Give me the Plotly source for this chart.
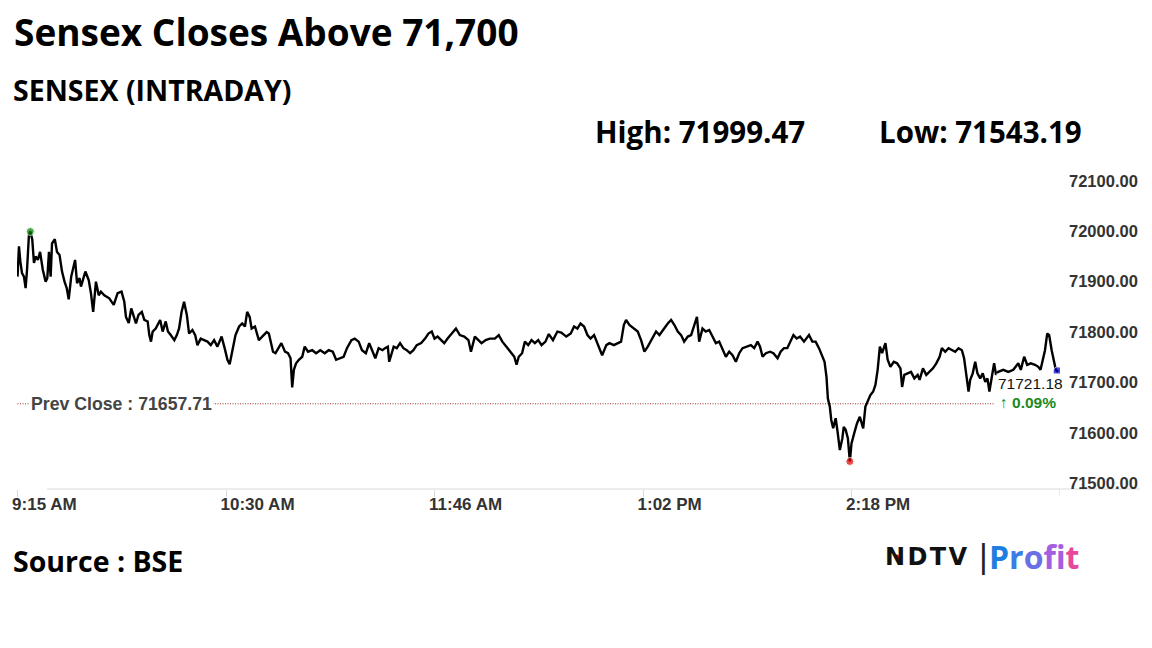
import plotly.graph_objects as go

# ---------------- data ----------------
# minutes elapsed since 9:15 AM
minutes = [
    0.0, 0.5, 1.0, 1.6, 2.3, 2.9, 3.4, 4.1, 4.6, 5.3, 5.9, 6.5, 7.3, 8.1, 9.1, 10.1, 10.7, 11.3, 11.9,
    12.4, 13.4, 14.2, 15.1, 16.0, 16.9, 17.7, 18.4, 19.3, 20.7, 21.4, 22.3, 22.8, 23.7, 24.4, 25.6,
    26.4, 27.2, 28.2, 29.2, 30.0, 31.2, 33.0, 34.6, 36.0, 37.4, 38.4, 39.0, 40.0, 40.9, 41.6, 42.6,
    43.5, 44.7, 45.6, 46.8, 47.4, 48.0, 48.6, 49.7, 51.3, 52.2, 53.3, 54.1, 55.1, 56.4, 57.3, 58.1,
    59.0, 59.9, 60.9, 61.7, 62.9, 63.9, 64.7, 65.9, 67.1, 68.3, 69.5, 70.7, 71.9, 73.4, 74.5, 75.5,
    76.3, 77.3, 78.4, 79.7, 80.8, 81.8, 82.6, 83.5, 84.2, 85.4, 86.8, 88.0, 89.6, 90.4, 91.0, 91.9,
    92.8, 94.0, 94.9, 96.2, 97.3, 98.2, 98.8, 99.4, 100.2, 101.2, 102.4, 103.3, 104.5, 106.0, 107.4,
    108.9, 110.5, 111.9, 113.4, 114.6, 116.1, 117.3, 118.5, 120.1, 121.3, 122.7, 123.9, 125.3, 126.5,
    127.5, 128.7, 129.9, 131.3, 132.2, 133.2, 133.7, 135.3, 136.4, 137.6, 138.8, 140.0, 141.2, 142.4,
    143.6, 145.2, 146.6, 147.8, 149.0, 150.0, 151.1, 152.3, 153.5, 154.7, 156.2, 157.7, 159.1, 160.7,
    162.2, 163.1, 164.5, 165.7, 166.9, 168.4, 169.9, 171.7, 173.1, 174.4, 175.9, 177.4, 178.7, 179.5,
    180.3, 181.5, 182.5, 183.7, 184.9, 186.1, 187.3, 188.5, 189.9, 191.1, 192.6, 194.2, 195.6, 197.4,
    199.0, 200.2, 201.4, 202.5, 203.8, 205.0, 206.1, 207.4, 208.5, 209.4, 210.3, 211.8, 212.9, 214.5,
    216.0, 217.1, 218.1, 218.9, 220.1, 221.7, 223.1, 224.3, 225.5, 226.7, 228.2, 229.7, 230.9, 232.5,
    233.9, 235.1, 236.3, 237.5, 238.7, 239.8, 241.1, 242.3, 243.4, 244.4, 245.2, 246.4, 247.6, 248.8,
    250.0, 251.2, 252.4, 253.6, 254.8, 256.0, 257.2, 258.4, 259.6, 260.8, 262.3, 263.8, 265.0, 266.2,
    267.1, 268.0, 269.2, 270.7, 271.9, 273.4, 274.5, 275.7, 276.9, 278.1, 279.1, 280.3, 281.5, 282.9,
    284.7, 285.9, 287.1, 288.3, 289.5, 290.3, 291.0, 291.5, 292.2, 292.7, 293.4, 294.3, 294.9, 295.8,
    296.7, 297.2, 297.9, 298.7, 299.4, 300.0, 301.1, 302.0, 303.0, 303.6, 304.2, 305.0, 305.9, 306.8,
    307.8, 308.6, 309.4, 310.2, 311.0, 312.2, 313.0, 314.0, 315.2, 316.4, 317.6, 318.2, 319.0, 320.2,
    321.4, 322.6, 323.8, 324.5, 325.7, 326.9, 328.1, 329.3, 330.5, 331.7, 332.5, 333.7, 334.9, 336.1,
    337.3, 338.5, 339.7, 340.5, 341.2, 342.1, 342.7, 343.6, 344.5, 345.3, 346.3, 347.2, 348.1, 348.9,
    349.6, 350.5, 351.3, 352.0, 352.8, 354.6, 356.4, 358.2, 360.0, 360.9, 362.1, 363.2, 364.5, 366.0,
    367.2, 368.0, 369.0, 369.6, 370.4, 371.1, 372.0, 373.5, 374.3,
]
sensex = [
    71910, 71970, 71940, 71917, 71910, 71887, 71923, 71993, 71999.47, 71983, 71937, 71950, 71943, 71959,
    71923, 71900, 71907, 71959, 71910, 71976, 71984, 71959, 71953, 71920, 71900, 71887, 71865, 71910,
    71943, 71897, 71907, 71890, 71907, 71920, 71903, 71877, 71840, 71900, 71873, 71880, 71873, 71867,
    71854, 71877, 71880, 71860, 71830, 71818, 71847, 71834, 71817, 71834, 71840, 71824, 71821, 71794,
    71781, 71801, 71807, 71824, 71801, 71821, 71801, 71794, 71784, 71794, 71807, 71840, 71860, 71834,
    71797, 71804, 71794, 71774, 71787, 71784, 71781, 71774, 71784, 71771, 71791, 71768, 71745, 71736,
    71761, 71794, 71811, 71817, 71811, 71840, 71830, 71807, 71811, 71784, 71791, 71800, 71797, 71781,
    71761, 71758, 71771, 71778, 71761, 71758, 71748, 71690, 71725, 71738, 71745, 71751, 71771, 71761,
    71764, 71758, 71764, 71758, 71764, 71761, 71745, 71748, 71751, 71768, 71784, 71787, 71781, 71764,
    71758, 71778, 71764, 71748, 71768, 71764, 71768, 71771, 71741, 71771, 71768, 71778, 71768, 71764,
    71758, 71764, 71774, 71778, 71787, 71797, 71801, 71787, 71791, 71784, 71778, 71787, 71797, 71807,
    71794, 71791, 71784, 71761, 71791, 71784, 71778, 71784, 71787, 71787, 71794, 71781, 71771, 71761,
    71751, 71735, 71751, 71758, 71781, 71774, 71784, 71778, 71784, 71774, 71781, 71796, 71784, 71801,
    71799, 71791, 71797, 71811, 71807, 71817, 71811, 71794, 71787, 71794, 71778, 71764, 71754, 71774,
    71778, 71774, 71778, 71781, 71814, 71824, 71814, 71807, 71801, 71784, 71761, 71771, 71787, 71801,
    71794, 71807, 71817, 71824, 71814, 71801, 71794, 71781, 71791, 71794, 71814, 71830, 71781, 71807,
    71801, 71804, 71791, 71778, 71781, 71764, 71751, 71761, 71754, 71741, 71758, 71768, 71771, 71774,
    71768, 71781, 71771, 71751, 71758, 71761, 71758, 71748, 71761, 71768, 71768, 71781, 71794, 71787,
    71791, 71781, 71794, 71781, 71781, 71768, 71751, 71741, 71711, 71668, 71652, 71626, 71609, 71629,
    71606, 71566, 71589, 71612, 71606, 71589, 71543.19, 71579, 71602, 71619, 71632, 71622, 71609, 71652,
    71662, 71675, 71682, 71695, 71725, 71771, 71758, 71778, 71745, 71731, 71741, 71738, 71728, 71691,
    71715, 71718, 71721, 71708, 71715, 71705, 71728, 71715, 71721, 71728, 71738, 71751, 71768, 71761,
    71768, 71764, 71761, 71768, 71764, 71748, 71715, 71682, 71705, 71718, 71741, 71718, 71708, 71718,
    71701, 71708, 71682, 71711, 71738, 71715, 71721, 71725, 71721, 71725, 71738, 71725, 71751, 71735,
    71738, 71735, 71731, 71725, 71748, 71764, 71797, 71794, 71764, 71725, 71721.18,
]

tick_minutes = [0, 75, 150, 225, 300]
tick_labels = ["9:15 AM", "10:30 AM", "11:46 AM", "1:02 PM", "2:18 PM"]
session_end_minute = 375
y_ticks = [71500, 71600, 71700, 71800, 71900, 72000, 72100]

day_high = 71999.47
day_low = 71543.19
prev_close = 71657.71
last_value = 71721.18
change_pct = 0.09

title_text = "Sensex Closes Above 71,700"
subtitle_text = "SENSEX (INTRADAY)"
source_text = "Source : BSE"

# ---------------- layout helpers ----------------
W, H = 1152, 648
ML, MR, MT, MB = 14, 92, 165, 159
PW, PH = W - ML - MR, H - MT - MB


def px(x):
    return (x - ML) / PW


def py(y):
    return (H - MB - y) / PH


hi_i = sensex.index(day_high)
lo_i = sensex.index(day_low)

fig = go.Figure()

fig.add_trace(go.Scatter(
    x=minutes, y=sensex, mode="lines",
    line=dict(color="#000000", width=2.4),
    hoverinfo="skip", showlegend=False,
))

fig.add_trace(go.Scatter(
    x=[minutes[hi_i], minutes[lo_i], minutes[-1]],
    y=[day_high, day_low, last_value],
    mode="markers",
    marker=dict(size=[8, 8, 10], color=["#008000", "#e00000", "#0000cc"]),
    hoverinfo="skip", showlegend=False,
))

# previous close dotted line
fig.add_shape(type="line", xref="x", yref="y",
              x0=minutes[0], x1=351.6, y0=prev_close, y1=prev_close,
              line=dict(color="#a52a2a", width=1, dash="1px,1.5px"), layer="below")

# bottom axis line (extends past the plot)
fig.add_shape(type="line", xref="paper", yref="paper",
              x0=px(44), x1=px(1140), y0=0, y1=0,
              line=dict(color="#e6e6e6", width=1.5), layer="below")
# tick mark at session end
fig.add_shape(type="line", xref="x", yref="paper",
              x0=session_end_minute, x1=session_end_minute, y0=0, y1=-7 / PH,
              line=dict(color="#d8d8d8", width=1), layer="below")

font_ui = "Liberation Sans, Arial, sans-serif"
font_title = "Open Sans, Noto Sans, sans-serif"

annotations = [
    dict(text=title_text, x=px(9), y=py(32), xanchor="left", yanchor="middle",
         font=dict(family=font_title, size=37, color="#000", weight="bold")),
    dict(text=subtitle_text, x=px(8), y=py(90), xanchor="left", yanchor="middle",
         font=dict(family=font_title, size=28.5, color="#000", weight="bold")),
    dict(text=f"High: {day_high:.2f}", x=px(592), y=py(131), xanchor="left", yanchor="middle",
         font=dict(family=font_title, size=29.5, color="#000", weight="bold")),
    dict(text=f"Low: {day_low:.2f}", x=px(876), y=py(131), xanchor="left", yanchor="middle",
         font=dict(family=font_title, size=29.5, color="#000", weight="bold")),
    dict(text=source_text, x=px(8), y=py(561), xanchor="left", yanchor="middle",
         font=dict(family=font_title, size=28.5, color="#000", weight="bold")),
    dict(text=f"Prev Close : {prev_close:.2f}", x=px(26), y=prev_close, yref="y",
         xanchor="left", yanchor="middle", bgcolor="#ffffff", borderpad=1,
         font=dict(family=font_ui, size=17.7, color="#444444", weight="bold")),
    dict(text=f"{last_value:.2f}", x=minutes[-1], y=last_value, xref="x", yref="y",
         xanchor="right", yanchor="top", xshift=7, yshift=-1, bgcolor="#ffffff", borderpad=1,
         font=dict(family=font_ui, size=15.5, color="#111111")),
    dict(text=f"\u2191 {change_pct:.2f}%", x=minutes[-1], y=last_value, xref="x", yref="y",
         xanchor="right", yanchor="top", xshift=0, yshift=-20,
         font=dict(family=font_ui, size=15.5, color="#1a8a1a", weight="bold")),
    # logo
    dict(text="N\u200aD\u200aT\u200aV", x=px(882), y=py(557), xanchor="left", yanchor="middle",
         font=dict(family="DejaVu Sans, sans-serif", size=24, color="#111", weight="bold")),
    dict(text="|", x=px(976), y=py(556), xanchor="left", yanchor="middle",
         font=dict(family="DejaVu Sans, sans-serif", size=32, color="#222")),
    dict(text=("<span style='color:#1f7fe0'>P</span><span style='color:#3a7de6'>r</span>"
               "<span style='color:#6b6fe6'>o</span><span style='color:#a45ee0'>f</span>"
               "<span style='color:#d24fc4'>i</span><span style='color:#e8479c'>t</span>"),
         x=px(987), y=py(556), xanchor="left", yanchor="middle",
         font=dict(family="Open Sans, sans-serif", size=32, weight="bold")),
]
for a in annotations:
    a.setdefault("xref", "paper")
    a.setdefault("yref", "paper")
    a["showarrow"] = False

# red dot inside the N of the logo
fig.add_shape(type="circle", xref="paper", yref="paper",
              x0=px(894), x1=px(899), y0=py(559.5), y1=py(554.5),
              fillcolor="#e00000", line=dict(width=0))

fig.update_layout(
    width=W, height=H,
    margin=dict(l=ML, r=MR, t=MT, b=MB),
    paper_bgcolor="#ffffff", plot_bgcolor="#ffffff",
    annotations=annotations,
    xaxis=dict(
        range=[-0.2, 375], tickmode="array", tickvals=tick_minutes, ticktext=tick_labels,
        showgrid=False, zeroline=False, showline=False,
        ticks="outside", ticklen=7, tickcolor="#d8d8d8", tickwidth=1,
        ticklabelposition="outside right", ticklabelshift=-6,
        tickfont=dict(family=font_ui, size=17, color="#333333", weight="bold"),
        fixedrange=True,
    ),
    yaxis=dict(
        range=[71488.6, 72131.4], side="right", tickmode="array", tickvals=y_ticks,
        ticktext=[f"{v:.2f}" for v in y_ticks],
        showgrid=False, zeroline=False, showline=False, ticks="",
        ticklabelstandoff=8,
        tickfont=dict(family=font_ui, size=16.5, color="#333333", weight="bold"),
        fixedrange=True,
    ),
)

fig.write_html("out.html", config={"displayModeBar": False},
               post_script="document.body.style.margin='0';")
